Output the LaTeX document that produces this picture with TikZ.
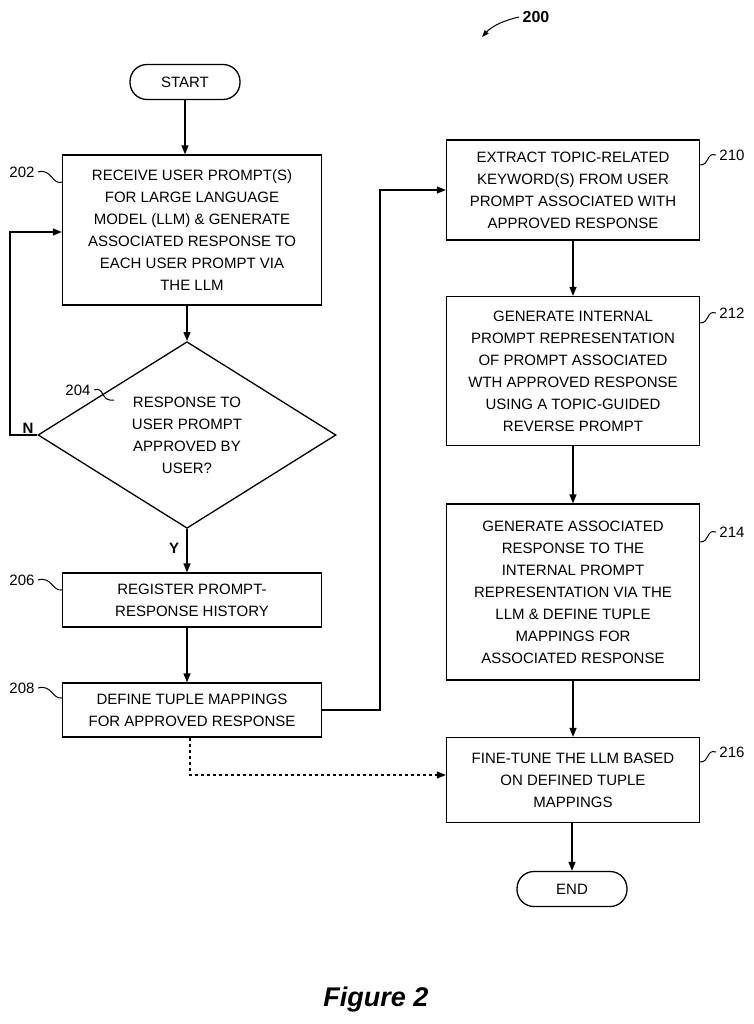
\documentclass[tikz,border=0pt]{standalone}
\usepackage{fontspec}
\setmainfont{Liberation Sans}
\usetikzlibrary{shapes.geometric,arrows.meta}
\begin{document}
\begin{tikzpicture}[x=1pt,y=-1pt,
  every node/.style={font=\fontsize{15}{22}\selectfont},
  box/.style={draw,line width=1.3pt,align=center,inner sep=0pt},
  term/.style={draw,line width=1.3pt,rounded corners=17pt,minimum width=110pt,minimum height=35pt},
  conn/.style={line width=1.3pt,-{Triangle[length=9pt,width=7pt]}},
  lead/.style={line width=1pt},
  lbl/.style={font=\fontsize{15}{18}\selectfont}]
\useasboundingbox (0,0) rectangle (753,1024);
\node[term] (start) at (185,82) {START};
\node[box,minimum width=259pt,minimum height=150pt] (b202) at (192,230) {RECEIVE USER PROMPT(S)\\FOR LARGE LANGUAGE\\MODEL (LLM) \& GENERATE\\ASSOCIATED RESPONSE TO\\EACH USER PROMPT VIA\\THE LLM};
\node[draw,line width=1.3pt,diamond,minimum width=298pt,minimum height=146pt,inner sep=0pt,align=center] (d204) at (187,435) {RESPONSE TO\\USER PROMPT\\APPROVED BY\\USER?};
\node[box,minimum width=259pt,minimum height=54pt] (b206) at (192,600) {REGISTER PROMPT-\\RESPONSE HISTORY};
\node[box,minimum width=259pt,minimum height=54pt] (b208) at (192,710) {DEFINE TUPLE MAPPINGS\\FOR APPROVED RESPONSE};
\node[box,minimum width=253pt,minimum height=100pt] (b210) at (573,190) {EXTRACT TOPIC-RELATED\\KEYWORD(S) FROM USER\\PROMPT ASSOCIATED WITH\\APPROVED RESPONSE};
\node[box,minimum width=253pt,minimum height=149pt] (b212) at (573,371) {GENERATE INTERNAL\\PROMPT REPRESENTATION\\OF PROMPT ASSOCIATED\\WTH APPROVED RESPONSE\\USING A TOPIC-GUIDED\\REVERSE PROMPT};
\node[box,minimum width=253pt,minimum height=176pt] (b214) at (573,592) {GENERATE ASSOCIATED\\RESPONSE TO THE\\INTERNAL PROMPT\\REPRESENTATION VIA THE\\LLM \& DEFINE TUPLE\\MAPPINGS FOR\\ASSOCIATED RESPONSE};
\node[box,minimum width=253pt,minimum height=85pt] (b216) at (573,780) {FINE-TUNE THE LLM BASED\\ON DEFINED TUPLE\\MAPPINGS};
\node[term] (end) at (572,889) {END};

\draw[conn] (start) -- (b202.north -| start);
\draw[conn] (b202.south -| d204) -- (d204.north);
\draw[conn] (d204.south) -- (b206.north -| d204) node[pos=0.45,left=4pt,font=\bfseries\fontsize{15}{18}\selectfont] {Y};
\draw[conn] (b206.south -| d204) -- (b208.north -| d204);
\coordinate (nl) at (10,435);
\draw[conn] (d204.west) -- (nl) |- (b202.west |- 0,232);
\node[font=\bfseries\fontsize{15}{18}\selectfont] (nlab) at (28,428) {N};
\coordinate (r1) at (380,710);
\draw[conn] (b208.east) -- (r1) |- (b210.west);
\coordinate (dd) at (190,775);
\draw[conn,dashed] (b208.south -| dd) -- (dd) -- (b216.west |- dd);
\draw[conn] (b210) -- (b212);
\draw[conn] (b212) -- (b214);
\draw[conn] (b214) -- (b216);
\draw[conn] (b216.south -| end) -- (end);

\node[lbl] (l202) at (22,172) {202};
\draw[lead] (l202.east) .. controls (52,168) and (52,186) .. (63,182);
\node[lbl] (l204) at (78,390) {204};
\draw[lead] (l204.east) .. controls (105,386) and (100,402) .. (114,400);
\node[lbl] (l206) at (22,580) {206};
\draw[lead] (l206.east) .. controls (52,576) and (52,592) .. (63,590);
\node[lbl] (l208) at (22,688) {208};
\draw[lead] (l208.east) .. controls (52,684) and (52,700) .. (63,698);
\node[lbl] (l210) at (732,155) {210};
\draw[lead] (700,165) .. controls (710,165) and (706,152) .. (l210.west);
\node[lbl] (l212) at (732,313) {212};
\draw[lead] (700,323) .. controls (710,323) and (706,310) .. (l212.west);
\node[lbl] (l214) at (732,532) {214};
\draw[lead] (700,542) .. controls (710,542) and (706,529) .. (l214.west);
\node[lbl] (l216) at (732,752) {216};
\draw[lead] (700,762) .. controls (710,762) and (706,749) .. (l216.west);
\node[font=\bfseries\fontsize{16}{18}\selectfont] (l200) at (536,17) {200};
\coordinate (a200) at (482,37);
\draw[line width=1pt,-{Triangle[length=7pt,width=5pt]}] (l200.west) .. controls (505,20) and (492,26) .. (a200);
\node[font=\bfseries\itshape\fontsize{27}{30}\selectfont] (fig) at (376,1000) {Figure 2};
\end{tikzpicture}
\end{document}
